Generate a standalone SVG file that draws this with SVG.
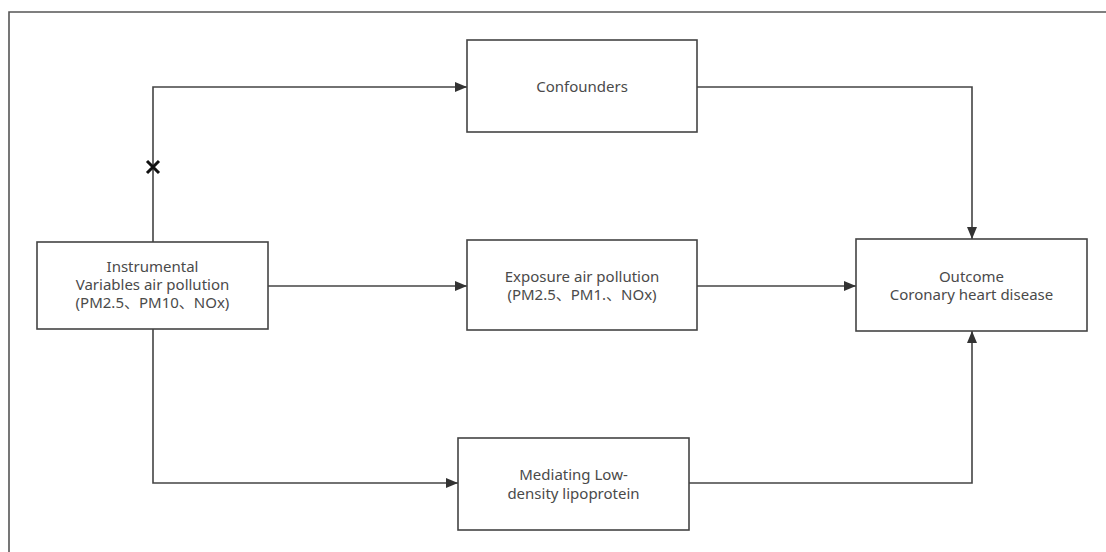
<svg xmlns="http://www.w3.org/2000/svg" width="1106" height="552" viewBox="0 0 1106 552">
<defs>
<marker id="arr" viewBox="0 0 12 10" refX="12" refY="5" markerWidth="12" markerHeight="10" markerUnits="userSpaceOnUse" orient="auto">
<path d="M0,0 L12,5 L0,10 Z" fill="#333"/>
</marker>
<style>
.box{fill:#fff;stroke:#444;stroke-width:1.6}
.lbl{font-family:"Noto Sans","Open Sans","Noto Sans CJK SC",sans-serif;font-size:15px;fill:#4a4a4a;text-anchor:middle}
.con{fill:none;stroke:#444;stroke-width:1.6}
</style>
</defs>
<rect x="0" y="0" width="1106" height="552" fill="#fff"/>
<path d="M9,552 L9,12 L1106,12" fill="none" stroke="#555" stroke-width="1.6"/>
<g id="connectors">
<path class="con" d="M153,242 L153,87 L467,87" marker-end="url(#arr)"/>
<path class="con" d="M268,286 L467,286" marker-end="url(#arr)"/>
<path class="con" d="M153,329 L153,483 L458,483" marker-end="url(#arr)"/>
<path class="con" d="M697,87 L972,87 L972,239" marker-end="url(#arr)"/>
<path class="con" d="M697,286 L856,286" marker-end="url(#arr)"/>
<path class="con" d="M689,483 L972,483 L972,331" marker-end="url(#arr)"/>
<path d="M147,161 L159,173 M159,161 L147,173" stroke="#111" stroke-width="3" fill="none"/>
</g>
<g id="instrumental">
<rect class="box" x="37" y="242" width="231" height="87"/>
<text class="lbl" x="152.5" y="272">Instrumental</text>
<text class="lbl" x="152.5" y="290">Variables air pollution</text>
<text class="lbl" x="152.5" y="308">(PM2.5、PM10、NOx)</text>
</g>
<g id="confounders">
<rect class="box" x="467" y="40" width="230" height="92"/>
<text class="lbl" x="582" y="92">Confounders</text>
</g>
<g id="exposure">
<rect class="box" x="467" y="240" width="230" height="90"/>
<text class="lbl" x="582" y="282">Exposure air pollution</text>
<text class="lbl" x="582" y="300">(PM2.5、PM1.、NOx)</text>
</g>
<g id="outcome">
<rect class="box" x="856" y="239" width="231" height="92"/>
<text class="lbl" x="971.5" y="282">Outcome</text>
<text class="lbl" x="971.5" y="300">Coronary heart disease</text>
</g>
<g id="mediating">
<rect class="box" x="458" y="438" width="231" height="92"/>
<text class="lbl" x="573.5" y="480">Mediating Low-</text>
<text class="lbl" x="573.5" y="499">density lipoprotein</text>
</g>
</svg>
